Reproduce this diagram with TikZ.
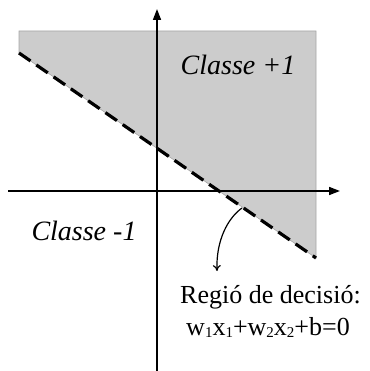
\documentclass[tikz,border=0pt]{standalone}
\usepackage{fontspec}
\setmainfont{Liberation Serif}
\usetikzlibrary{arrows.meta}
\begin{document}
\begin{tikzpicture}[x=1pt,y=-1pt,
  axis/.style={line width=1.6pt,-{Triangle[length=11pt,width=8pt]}},
  lbl/.style={font=\fontsize{28}{30}\selectfont\itshape,inner sep=0pt,anchor=base},
  txt/.style={font=\fontsize{26}{28}\selectfont,inner sep=0pt,anchor=base}]
\useasboundingbox (0,0) rectangle (369,371);
\coordinate (tl) at (19,31);
\coordinate (tr) at (316,31);
\coordinate (br) at (316,258);
\coordinate (la) at (19,53);
\fill[black!20,draw=black!35,line width=0.6pt] (la) -- (tl) -- (tr) -- (br) -- cycle;
\draw[line width=3.2pt,dash pattern=on 14pt off 7pt] (la) -- (br);
\coordinate (xs) at (8,191);
\coordinate (xe) at (340,191);
\coordinate (ys) at (157,371);
\coordinate (ye) at (157,9);
\draw[axis] (xs) -- (xe);
\draw[axis] (ys) -- (ye);
\node[lbl] (c1) at (238,75) {Classe +1};
\node[lbl] (c2) at (84,240) {Classe -1};
\coordinate (cs) at (242,208);
\node[txt] (r1) at (270.5,303) {Regió de decisió:};
\node[txt] (r2) at (268,335) {w\raisebox{-2pt}{\fontsize{15}{16}\selectfont 1}x\raisebox{-2pt}{\fontsize{15}{16}\selectfont 1}+w\raisebox{-2pt}{\fontsize{15}{16}\selectfont 2}x\raisebox{-2pt}{\fontsize{15}{16}\selectfont 2}+b=0};
\coordinate (ce) at (217,271);
\draw[line width=1.2pt,-{To[length=6pt,width=8pt]}] (cs) .. controls (228,218) and (216,240) .. (ce);
\end{tikzpicture}
\end{document}
